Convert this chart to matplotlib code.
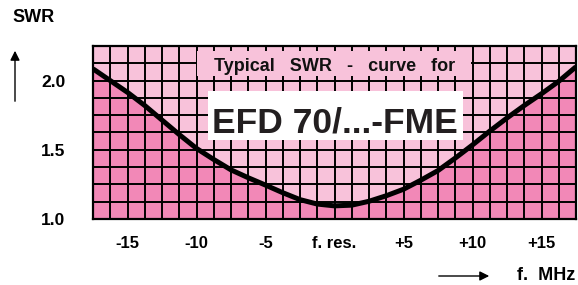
import numpy as np
import matplotlib.pyplot as plt
from matplotlib.patches import Rectangle

# frequency offset from resonance (MHz) and SWR
freq = [-17.5, -16.25, -15, -13.75, -12.5, -11.25, -10, -8.75, -7.5, -6.25, -5, -3.75, -2.5, -1.25,
        0, 1.25, 2.5, 3.75, 5, 6.25, 7.5, 8.75, 10, 11.25, 12.5, 13.75, 15, 16.25, 17.5]
swr = [2.085, 2.00, 1.915, 1.82, 1.715, 1.61, 1.51, 1.43, 1.355, 1.298, 1.245, 1.19, 1.14, 1.108,
       1.095, 1.10, 1.128, 1.168, 1.215, 1.28, 1.35, 1.44, 1.535, 1.635, 1.73, 1.82, 1.905, 1.995, 2.10]

xticks = [-15, -10, -5, 0, 5, 10, 15]
xlabels = ['-15', '-10', '-5', 'f. res.', '+5', '+10', '+15']
yticks = [1.0, 1.5, 2.0]
ylabels = ['1.0', '1.5', '2.0']

light = '#F8C2DA'
dark = '#F288B7'
font = 'Liberation Sans'

fig = plt.figure(figsize=(5.78, 2.85), dpi=100)
ax = fig.add_axes([93 / 578, 1 - 219 / 285, (576 - 93) / 578, (219 - 46) / 285])
x0, x1, y0, y1 = -17.5, 17.5, 1.0, 2.25
ax.set_xlim(x0, x1)
ax.set_ylim(y0, y1)

ax.fill_between(freq, y0, swr, color=dark, lw=0, zorder=1)
ax.fill_between(freq, swr, y1, color=light, lw=0, zorder=1)

# grid of squares
for gx in np.arange(x0, x1 + 0.01, 1.25):
    ax.axvline(gx, color='black', lw=1.4, zorder=2)
for gy in np.arange(y0, y1 + 0.01, 0.125):
    ax.axhline(gy, color='black', lw=1.4, zorder=2)

ax.plot(freq, swr, color='black', lw=3.6, solid_capstyle='butt', solid_joinstyle='round', zorder=3)

# label boxes
ax.add_patch(Rectangle((-10.0, 2.035), 19.9, 0.18, facecolor=light, edgecolor='none', zorder=4))
ax.text(0, 2.068, 'Typical   SWR   -   curve   for', ha='center', va='baseline',
        fontsize=13, fontweight='bold', family=font, color='#111111', zorder=5)
ax.add_patch(Rectangle((-9.2, 1.574), 18.5, 0.35, facecolor='white', edgecolor='none', zorder=4))
ax.text(0.05, 1.625, 'EFD 70/...-FME', ha='center', va='baseline',
        fontsize=25.5, fontweight='bold', family=font, color='#231F20', zorder=5)

for s in ax.spines.values():
    s.set_linewidth(1.6)
    s.set_zorder(6)

ax.set_xticks(xticks)
ax.set_xticklabels(xlabels, fontsize=12, fontweight='bold', family=font)
ax.set_yticks(yticks)
ax.set_yticklabels(ylabels, fontsize=12.5, fontweight='bold', family=font)
ax.tick_params(axis='x', length=0, pad=12)
ax.tick_params(axis='y', length=0, pad=20)

fig.text(12 / 578, 1 - 18 / 285, 'SWR', ha='left', va='center',
         fontsize=13, fontweight='bold', family=font)
fig.text(575 / 578, 1 - 275 / 285, 'f.  MHz', ha='right', va='center',
         fontsize=13, fontweight='bold', family=font)
fig.add_artist(plt.Annotation('', xy=(15 / 578, 1 - 48 / 285), xytext=(15 / 578, 1 - 104 / 285),
                              xycoords='figure fraction',
                              arrowprops=dict(arrowstyle='-|>', color='black', lw=1.0,
                                              mutation_scale=14)))
fig.add_artist(plt.Annotation('', xy=(492 / 578, 1 - 276 / 285), xytext=(436 / 578, 1 - 276 / 285),
                              xycoords='figure fraction',
                              arrowprops=dict(arrowstyle='-|>', color='black', lw=1.0,
                                              mutation_scale=14)))

fig.savefig('out.png', dpi=100)
